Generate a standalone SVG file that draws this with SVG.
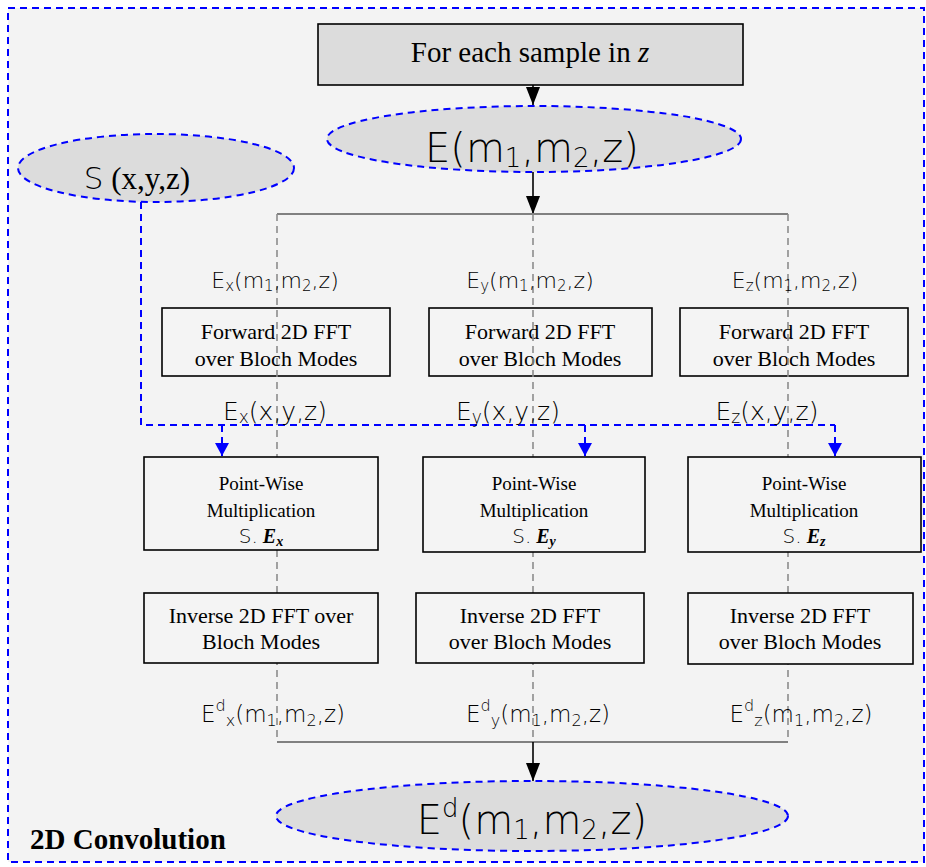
<svg xmlns="http://www.w3.org/2000/svg" width="926" height="867" viewBox="0 0 926 867">
<defs>
<marker id="ab" markerUnits="userSpaceOnUse" markerWidth="18" markerHeight="14" refX="18" refY="7" orient="auto"><path d="M0,0 L18,7 L0,14 z" fill="#000"/></marker>
<marker id="au" markerUnits="userSpaceOnUse" markerWidth="13" markerHeight="14" refX="13" refY="7" orient="auto"><path d="M0,0 L13,7 L0,14 z" fill="#0000ff"/></marker>
<style>
.sans{font-family:"DejaVu Sans","Liberation Sans",sans-serif;font-weight:200;fill:#000}
.serif{font-family:"Liberation Serif","Times New Roman",serif;fill:#000}
.bi{font-weight:bold;font-style:italic}
.box{fill:#f4f4f4;stroke:#000;stroke-width:1.6}
.gbox{fill:#dcdcdc;stroke:#000;stroke-width:1.6}
.ell{fill:#dcdcdc;stroke:#0000ff;stroke-width:2;stroke-dasharray:7 5}
.blue{fill:none;stroke:#0000ff;stroke-width:2;stroke-dasharray:7 5}
.gdash{fill:none;stroke:#8c8c8c;stroke-width:1.6;stroke-dasharray:7 5}
.gline{fill:none;stroke:#808080;stroke-width:2}
.blk{fill:none;stroke:#000;stroke-width:1.6}
</style>
</defs>
<rect x="8" y="8" width="916" height="854" fill="#f3f3f3" stroke="#0000ff" stroke-width="2" stroke-dasharray="7 5"/>

<g id="loop">
<rect class="gbox" x="318" y="24" width="425" height="61"/>
<text class="serif" x="530" y="62" font-size="29" text-anchor="middle">For each sample in <tspan font-style="italic">z</tspan></text>
</g>

<g id="E">
<ellipse class="ell" cx="534" cy="139" rx="207" ry="33"/>
<text class="sans" x="532" y="162" font-size="40" text-anchor="middle">E(m<tspan font-size="26" dy="5">1</tspan><tspan dy="-5">,m</tspan><tspan font-size="26" dy="5">2</tspan><tspan dy="-5">,z)</tspan></text>
</g>

<g id="S">
<ellipse class="ell" cx="156" cy="168" rx="138" ry="34"/>
<text x="137" y="189" text-anchor="middle"><tspan class="sans" font-size="31">S</tspan><tspan class="serif" font-size="31"> (x,y,z)</tspan></text>
</g>

<g id="fwdx">
<rect class="box" x="162" y="308" width="228" height="68"/>
<text class="serif" font-size="22" text-anchor="middle"><tspan x="276" y="339">Forward 2D FFT</tspan><tspan x="276" y="366">over Bloch Modes</tspan></text>
</g>
<g id="fwdy">
<rect class="box" x="429" y="308" width="223" height="68"/>
<text class="serif" font-size="22" text-anchor="middle"><tspan x="540" y="339">Forward 2D FFT</tspan><tspan x="540" y="366">over Bloch Modes</tspan></text>
</g>
<g id="fwdz">
<rect class="box" x="680" y="308" width="228" height="68"/>
<text class="serif" font-size="22" text-anchor="middle"><tspan x="794" y="339">Forward 2D FFT</tspan><tspan x="794" y="366">over Bloch Modes</tspan></text>
</g>

<g id="connectors">
<line class="blk" x1="533" y1="85" x2="533" y2="105" marker-end="url(#ab)"/>
<line class="blk" x1="533" y1="172" x2="533" y2="214" marker-end="url(#ab)"/>
<line class="gline" x1="277" y1="214" x2="788" y2="214"/>
<line class="gdash" x1="277" y1="214" x2="277" y2="742"/>
<line class="gdash" x1="533" y1="214" x2="533" y2="742"/>
<line class="gdash" x1="788" y1="214" x2="788" y2="742"/>
<line class="gline" x1="277" y1="742" x2="788" y2="742"/>
<line class="blk" x1="533" y1="742" x2="533" y2="781" marker-end="url(#ab)"/>
<polyline class="blue" points="141,202 141,425 835,425"/>
<line class="blue" x1="222" y1="425" x2="222" y2="456" marker-end="url(#au)"/>
<line class="blue" x1="585" y1="425" x2="585" y2="456" marker-end="url(#au)"/>
<line class="blue" x1="835" y1="425" x2="835" y2="456" marker-end="url(#au)"/>
</g>

<g id="labels">
<text class="sans" font-size="22" text-anchor="middle" x="275" y="288">E<tspan font-size="15" dy="3">x</tspan><tspan dy="-3">(m</tspan><tspan font-size="15" dy="3">1</tspan><tspan dy="-3">,m</tspan><tspan font-size="15" dy="3">2</tspan><tspan dy="-3">,z)</tspan></text>
<text class="sans" font-size="22" text-anchor="middle" x="530" y="288">E<tspan font-size="15" dy="3">y</tspan><tspan dy="-3">(m</tspan><tspan font-size="15" dy="3">1</tspan><tspan dy="-3">,m</tspan><tspan font-size="15" dy="3">2</tspan><tspan dy="-3">,z)</tspan></text>
<text class="sans" font-size="22" text-anchor="middle" x="795" y="288">E<tspan font-size="15" dy="3">z</tspan><tspan dy="-3">(m</tspan><tspan font-size="15" dy="3">1</tspan><tspan dy="-3">,m</tspan><tspan font-size="15" dy="3">2</tspan><tspan dy="-3">,z)</tspan></text>
<text class="sans" font-size="25" text-anchor="middle" x="275" y="420">E<tspan font-size="17" dy="3">x</tspan><tspan dy="-3">(x,y,z)</tspan></text>
<text class="sans" font-size="25" text-anchor="middle" x="508" y="420">E<tspan font-size="17" dy="3">y</tspan><tspan dy="-3">(x,y,z)</tspan></text>
<text class="sans" font-size="25" text-anchor="middle" x="767" y="420">E<tspan font-size="17" dy="3">z</tspan><tspan dy="-3">(x,y,z)</tspan></text>
<text class="sans" font-size="23" text-anchor="middle" x="273" y="722">E<tspan font-size="16" dy="-11">d</tspan><tspan font-size="16" dy="15">x</tspan><tspan dy="-4">(m</tspan><tspan font-size="16" dy="4">1</tspan><tspan dy="-4">,m</tspan><tspan font-size="16" dy="4">2</tspan><tspan dy="-4">,z)</tspan></text>
<text class="sans" font-size="23" text-anchor="middle" x="538" y="722">E<tspan font-size="16" dy="-11">d</tspan><tspan font-size="16" dy="15">y</tspan><tspan dy="-4">(m</tspan><tspan font-size="16" dy="4">1</tspan><tspan dy="-4">,m</tspan><tspan font-size="16" dy="4">2</tspan><tspan dy="-4">,z)</tspan></text>
<text class="sans" font-size="23" text-anchor="middle" x="801" y="722">E<tspan font-size="16" dy="-11">d</tspan><tspan font-size="16" dy="15">z</tspan><tspan dy="-4">(m</tspan><tspan font-size="16" dy="4">1</tspan><tspan dy="-4">,m</tspan><tspan font-size="16" dy="4">2</tspan><tspan dy="-4">,z)</tspan></text>
</g>

<g id="pwx">
<rect class="box" x="144" y="457" width="234" height="93"/>
<text class="serif" font-size="19" text-anchor="middle"><tspan x="261" y="490">Point-Wise</tspan><tspan x="261" y="517">Multiplication</tspan></text>
<text x="261" y="543" text-anchor="middle"><tspan class="sans" font-size="20">S.</tspan><tspan class="serif bi" font-size="20"> E</tspan><tspan class="serif bi" font-size="14" dy="3">x</tspan></text>
</g>
<g id="pwy">
<rect class="box" x="423" y="457" width="222" height="95"/>
<text class="serif" font-size="19" text-anchor="middle"><tspan x="534" y="490">Point-Wise</tspan><tspan x="534" y="517">Multiplication</tspan></text>
<text x="534" y="543" text-anchor="middle"><tspan class="sans" font-size="20">S.</tspan><tspan class="serif bi" font-size="20"> E</tspan><tspan class="serif bi" font-size="14" dy="3">y</tspan></text>
</g>
<g id="pwz">
<rect class="box" x="688" y="457" width="233" height="95"/>
<text class="serif" font-size="19" text-anchor="middle"><tspan x="804" y="490">Point-Wise</tspan><tspan x="804" y="517">Multiplication</tspan></text>
<text x="804" y="543" text-anchor="middle"><tspan class="sans" font-size="20">S.</tspan><tspan class="serif bi" font-size="20"> E</tspan><tspan class="serif bi" font-size="14" dy="3">z</tspan></text>
</g>

<g id="invx">
<rect class="box" x="144" y="593" width="234" height="70"/>
<text class="serif" font-size="22" text-anchor="middle"><tspan x="261" y="623">Inverse 2D FFT over</tspan><tspan x="261" y="649">Bloch Modes</tspan></text>
</g>
<g id="invy">
<rect class="box" x="416" y="593" width="228" height="70"/>
<text class="serif" font-size="22" text-anchor="middle"><tspan x="530" y="623">Inverse 2D FFT</tspan><tspan x="530" y="649">over Bloch Modes</tspan></text>
</g>
<g id="invz">
<rect class="box" x="688" y="593" width="225" height="71"/>
<text class="serif" font-size="22" text-anchor="middle"><tspan x="800" y="623">Inverse 2D FFT</tspan><tspan x="800" y="649">over Bloch Modes</tspan></text>
</g>

<g id="Ed">
<ellipse class="ell" cx="532" cy="816" rx="256" ry="35" stroke-width="1.6" stroke-dasharray="5 4"/>
<text class="sans" x="532" y="834" font-size="40" text-anchor="middle">E<tspan font-size="26" dy="-17">d</tspan><tspan dy="17">(m</tspan><tspan font-size="26" dy="5">1</tspan><tspan dy="-5">,m</tspan><tspan font-size="26" dy="5">2</tspan><tspan dy="-5">,z)</tspan></text>
</g>

<g id="title">
<text class="serif" x="30" y="849" font-size="29" font-weight="bold">2D Convolution</text>
</g>
</svg>
